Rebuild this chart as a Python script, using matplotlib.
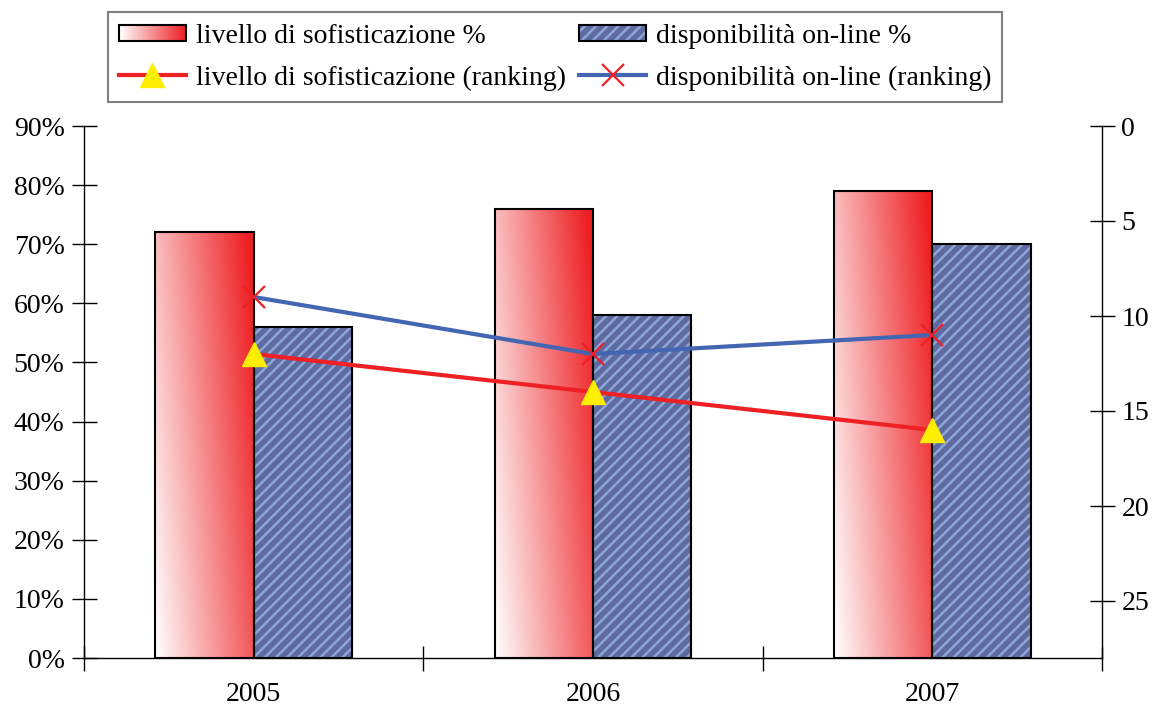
import numpy as np
import matplotlib
matplotlib.use("Agg")
import matplotlib.pyplot as plt
from matplotlib.colors import LinearSegmentedColormap
from matplotlib.patches import Rectangle
from matplotlib.image import BboxImage
from matplotlib.transforms import Bbox, TransformedBbox
from matplotlib.legend_handler import HandlerBase
from matplotlib.lines import Line2D

plt.rcParams['font.family'] = ['Liberation Serif', 'DejaVu Serif']
plt.rcParams['hatch.linewidth'] = 1.8

years = ['2005', '2006', '2007']
sofisticazione_pct = [72, 76, 79]
disponibilita_pct = [56, 58, 70]
sofisticazione_rank = [12, 14, 16]
disponibilita_rank = [9, 12, 11]

RED = '#ee2024'
BLUE_LINE = '#4466b2'
BLUE_FILL = '#5e6aa0'
BLUE_HATCH = '#8ca6d8'
HATCH = '///'

red_cmap = LinearSegmentedColormap.from_list('whitered', ['#ffffff', RED])


def gradient(h, w):
    xs = np.linspace(0, 1, w)[None, :]
    ys = np.linspace(0, 1, h)[:, None]
    return np.clip(0.75 * xs + 0.3 * ys, 0, 1)


class GradientHandler(HandlerBase):
    def legend_artist(self, legend, orig_handle, fontsize, handlebox):
        x0, y0 = handlebox.xdescent, handlebox.ydescent
        w, h = handlebox.width, handlebox.height
        bb = TransformedBbox(Bbox.from_bounds(-x0, -y0 + h * 0.1, w, h * 0.8),
                             handlebox.get_transform())
        img = BboxImage(bb, cmap=red_cmap, norm=plt.Normalize(0, 1),
                        interpolation='bilinear')
        img.set_data(np.linspace(0, 1, 50)[None, :].repeat(5, 0))
        rect = Rectangle((-x0, -y0 + h * 0.1), w, h * 0.8, facecolor='none',
                         edgecolor='black', lw=1.5, transform=handlebox.get_transform())
        handlebox.add_artist(img)
        handlebox.add_artist(rect)
        return rect


class HatchHandler(HandlerBase):
    def legend_artist(self, legend, orig_handle, fontsize, handlebox):
        x0, y0 = handlebox.xdescent, handlebox.ydescent
        w, h = handlebox.width, handlebox.height
        tr = handlebox.get_transform()
        back = Rectangle((-x0, -y0 + h * 0.1), w, h * 0.8, facecolor=BLUE_FILL,
                         edgecolor=BLUE_HATCH, hatch=HATCH, lw=0, transform=tr)
        rect = Rectangle((-x0, -y0 + h * 0.1), w, h * 0.8, facecolor='none',
                         edgecolor='black', lw=1.5, transform=tr)
        handlebox.add_artist(back)
        handlebox.add_artist(rect)
        return rect


fig = plt.figure(figsize=(11.52, 7.09), dpi=100)
ax = fig.add_axes([84 / 1152, 1 - 658 / 709, (1102 - 84) / 1152, (658 - 126) / 709])
ax2 = ax.twinx()

x = np.arange(len(years))
width = 0.29

# gradient bars
for xi, v in zip(x, sofisticazione_pct):
    left = xi - width
    bar = Rectangle((left, 0), width, v, facecolor='none', edgecolor='black',
                    lw=1.5, zorder=3)
    ax.add_patch(bar)
    im = ax.imshow(gradient(200, 100), cmap=red_cmap, norm=plt.Normalize(0, 1),
                   extent=(left, left + width, 0, v), origin='lower',
                   aspect='auto', interpolation='bilinear', zorder=2)
    im.set_clip_path(bar)

# hatched bars
ax.bar(x + width / 2, disponibilita_pct, width, color=BLUE_FILL,
       edgecolor=BLUE_HATCH, hatch=HATCH, lw=0, zorder=2)
ax.bar(x + width / 2, disponibilita_pct, width, facecolor='none',
       edgecolor='black', lw=1.5, zorder=3)

ax.set_xlim(-0.5, 2.5)
ax.set_ylim(0, 90)
ax.set_yticks(range(0, 91, 10))
ax.set_yticklabels([f'{v}%' for v in range(0, 91, 10)])
ax.set_xticks([-0.5, 0.5, 1.5, 2.5])
ax.set_xticklabels([])
ax.set_xticks(x, minor=True)
ax.set_xticklabels(years, minor=True)
ax.tick_params(axis='x', which='minor', length=0, pad=17, labelsize=20)
ax.tick_params(axis='x', which='major', direction='inout', length=18, width=1)
ax.tick_params(axis='y', direction='inout', length=18, width=1, labelsize=20, pad=5)

ax2.plot(x, sofisticazione_rank, color=RED, lw=3, marker='^', ms=17,
         mfc='#ffee00', mec='#ffee00', zorder=5)
ax2.plot(x, disponibilita_rank, color=BLUE_LINE, lw=3, marker='x', ms=16,
         mec=RED, mew=1.6, zorder=5)
ax2.set_ylim(28, 0)
ax2.set_yticks(range(0, 26, 5))
ax2.tick_params(axis='y', direction='inout', length=18, width=1, labelsize=20, pad=5)

for a in (ax, ax2):
    a.spines['top'].set_visible(False)
    for s in ('left', 'right', 'bottom'):
        a.spines[s].set_linewidth(1)
ax.patch.set_visible(False)
ax2.patch.set_visible(False)
ax.spines['right'].set_visible(False)
ax2.spines['left'].set_visible(False)
ax2.spines['bottom'].set_visible(False)

# lines on top of the bars
ax.set_zorder(1)
ax2.set_zorder(2)

h_bar1 = Rectangle((0, 0), 1, 1)
h_bar2 = Rectangle((0, 0), 1, 1)
h_l1 = Line2D([], [], color=RED, lw=3, marker='^', ms=17, mfc='#ffee00', mec='#ffee00')
h_l2 = Line2D([], [], color=BLUE_LINE, lw=3, marker='x', ms=16, mec=RED, mew=1.6)
leg = fig.legend([h_bar1, h_l1, h_bar2, h_l2],
                 ['livello di sofisticazione %', 'livello di sofisticazione (ranking)',
                  'disponibilità on-line %', 'disponibilità on-line (ranking)'],
                 handler_map={h_bar1: GradientHandler(), h_bar2: HatchHandler()},
                 loc='upper left', bbox_to_anchor=(108 / 1152, 1 - 12 / 709),
                 ncol=2, fontsize=20, frameon=True, fancybox=False,
                 edgecolor='#808080', framealpha=1, handlelength=2.4,
                 handletextpad=0.35, columnspacing=0.5, labelspacing=0.6,
                 borderpad=0.4, borderaxespad=0)
leg.get_frame().set_linewidth(1.5)

fig.savefig('out.png', dpi=100)
